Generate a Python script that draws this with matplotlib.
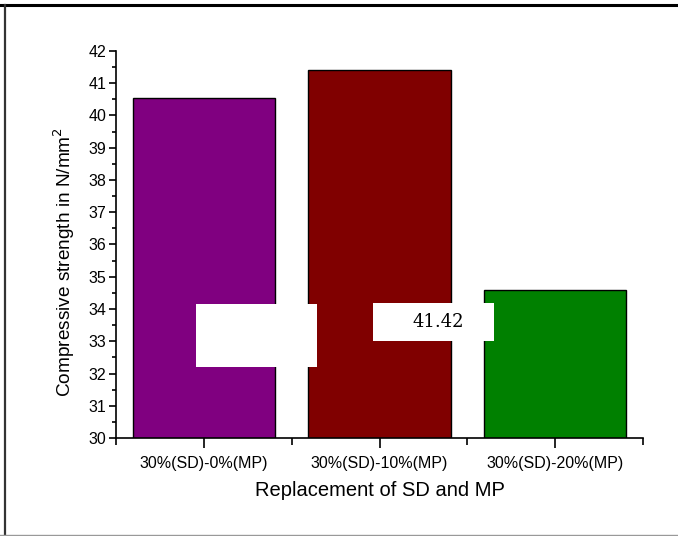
import matplotlib.pyplot as plt
from matplotlib.patches import Rectangle
from matplotlib.lines import Line2D
from matplotlib.ticker import MultipleLocator

plt.rcParams['font.family'] = ['Liberation Sans', 'DejaVu Sans']

# data
categories = ["30%(SD)-0%(MP)", "30%(SD)-10%(MP)", "30%(SD)-20%(MP)"]
strength = [40.55, 41.42, 34.58]
bar_colors = ["#800080", "#800000", "#008000"]
label_text = "41.42"

fig = plt.figure(figsize=(6.78, 5.36), dpi=100)
ax = fig.add_axes([0.1711, 0.1828, 0.7773, 0.7221])

x = range(len(categories))
ax.bar(x, strength, width=0.81, color=bar_colors, edgecolor="black", linewidth=1.0)

ax.set_xlim(-0.5, 2.5)
ax.set_ylim(30, 42)
ax.set_xticks(list(x))
ax.set_xticklabels(categories)
ax.xaxis.set_minor_locator(MultipleLocator(1, offset=0.5))
ax.yaxis.set_major_locator(MultipleLocator(1))
ax.yaxis.set_minor_locator(MultipleLocator(0.5))
ax.tick_params(axis="both", which="major", direction="out", width=1.2, labelsize=11.5)
ax.tick_params(axis="x", which="major", length=7, pad=6)
ax.tick_params(axis="y", which="major", length=5, pad=2)
ax.tick_params(axis="x", which="minor", direction="out", length=5, width=1.2)
ax.tick_params(axis="y", which="minor", direction="out", length=3, width=1.2)

for s in ["top", "right"]:
    ax.spines[s].set_visible(False)
for s in ["left", "bottom"]:
    ax.spines[s].set_linewidth(1.2)

ax.set_xlabel("Replacement of SD and MP", fontsize=14.5)
ax.set_ylabel("Compressive strength in N/mm$^2$", fontsize=13.7)
ax.xaxis.set_label_coords(0.5, -0.112)
ax.yaxis.set_label_coords(-0.074, 0.455)

# white label boxes
ax.add_patch(Rectangle((0.151, 0.184), 0.23, 0.163, transform=ax.transAxes,
                       facecolor="white", edgecolor="none", zorder=5))
ax.add_patch(Rectangle((0.488, 0.250), 0.23, 0.098, transform=ax.transAxes,
                       facecolor="white", edgecolor="none", zorder=5))
ax.text(0.612, 0.30, label_text, transform=ax.transAxes, ha="center", va="center",
        fontsize=13, family=["DejaVu Serif"], zorder=6)

# figure border (top, left, bottom)
fig.add_artist(Line2D([0.0, 1.0], [0.9915, 0.9915], transform=fig.transFigure,
                      color="black", linewidth=2.2))
fig.add_artist(Line2D([0.0075, 0.0075], [0.0, 0.9915], transform=fig.transFigure,
                      color="#333333", linewidth=1.6))
fig.add_artist(Line2D([0.0, 1.0], [0.002, 0.002], transform=fig.transFigure,
                      color="#999999", linewidth=1.0))

fig.savefig("out.png", dpi=100)
